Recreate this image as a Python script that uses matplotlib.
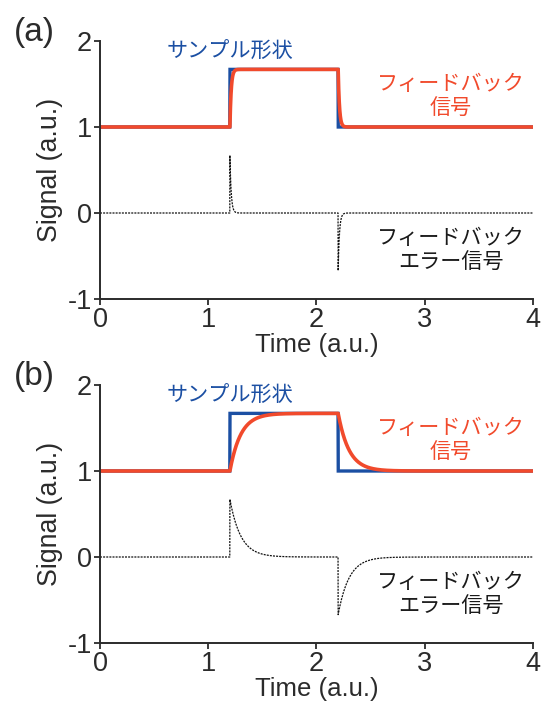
import numpy as np
import matplotlib
matplotlib.use("Agg")
import matplotlib.pyplot as plt

plt.rcParams['font.family'] = ['Liberation Sans', 'Noto Sans CJK JP', 'DejaVu Sans']

# Step-shaped sample: baseline level, raised level, edges (a.u.)
t_start, t_end = 0.0, 4.0
base_level = 1.0
high_level = 1.67
edge_rise = 1.2
edge_fall = 2.2
# First-order lag time constant of the feedback loop for each panel
panel_labels = ["(a)", "(b)"]
time_constants = [0.012, 0.10]

x_ticks = [0, 1, 2, 3, 4]
y_ticks = [-1, 0, 1, 2]

BLUE = "#1b4fa3"
RED = "#f14a2c"
INK = "#2b2b2b"
JP = ['Noto Sans CJK JP']

t = np.linspace(t_start, t_end, 4001)
sample = np.where((t >= edge_rise) & (t < edge_fall), high_level, base_level)


def feedback_response(tau):
    step = high_level - base_level
    f = np.full_like(t, base_level)
    on = (t >= edge_rise) & (t < edge_fall)
    f[on] = base_level + step * (1 - np.exp(-(t[on] - edge_rise) / tau))
    reached = base_level + step * (1 - np.exp(-(edge_fall - edge_rise) / tau))
    off = t >= edge_fall
    f[off] = base_level + (reached - base_level) * np.exp(-(t[off] - edge_fall) / tau)
    return f


fig = plt.figure(figsize=(5.42, 7.08), dpi=100)
W, H = 542, 708
axes_rects = [
    [100 / W, 1 - 299 / H, 433 / W, 258 / H],
    [100 / W, 1 - 643 / H, 433 / W, 258 / H],
]
label_pos = [(34 / W, 1 - 33 / H), (34 / W, 1 - 377 / H)]

for rect, label, lpos, tau in zip(axes_rects, panel_labels, label_pos, time_constants):
    ax = fig.add_axes(rect)
    fb = feedback_response(tau)
    err = sample - fb

    ax.plot(t, err, color="#111111", lw=0.9, ls=(0, (1.6, 0.9)))
    ax.plot(t, sample, color=BLUE, lw=2.4, solid_joinstyle="miter")
    ax.plot(t, fb, color=RED, lw=2.6, solid_capstyle="round")

    ax.set_xlim(t_start, t_end)
    ax.set_ylim(-1, 2)
    ax.set_xticks(x_ticks)
    ax.set_yticks(y_ticks)
    ax.set_xticklabels([str(v) for v in x_ticks])
    ax.set_yticklabels([str(v) for v in y_ticks])
    for side in ("top", "right"):
        ax.spines[side].set_visible(False)
    for side in ("left", "bottom"):
        ax.spines[side].set_color(INK)
        ax.spines[side].set_linewidth(1.4)
    ax.tick_params(direction="out", length=4, width=1.3, color=INK,
                   labelsize=19.5, labelcolor=INK, pad=2)
    ax.set_xlabel("Time (a.u.)", fontsize=18.5, color=INK, labelpad=0)
    ax.set_ylabel("Signal (a.u.)", fontsize=19.3, color=INK, labelpad=3)

    ax.text(1.2, 1.87, "サンプル形状", color=BLUE, fontsize=15.2,
            ha="center", va="center", family=JP)
    ax.text(3.24, 1.36, "フィードバック\n信号", color=RED, fontsize=15.2,
            ha="center", va="center", linespacing=1.15, family=JP)
    ax.text(3.24, -0.43, "フィードバック\nエラー信号", color="#1a1a1a", fontsize=15.2,
            ha="center", va="center", linespacing=1.15, family=JP)

    fig.text(lpos[0], lpos[1], label, fontsize=24, color=INK,
             ha="center", va="center")

fig.savefig("out.png", dpi=100)
